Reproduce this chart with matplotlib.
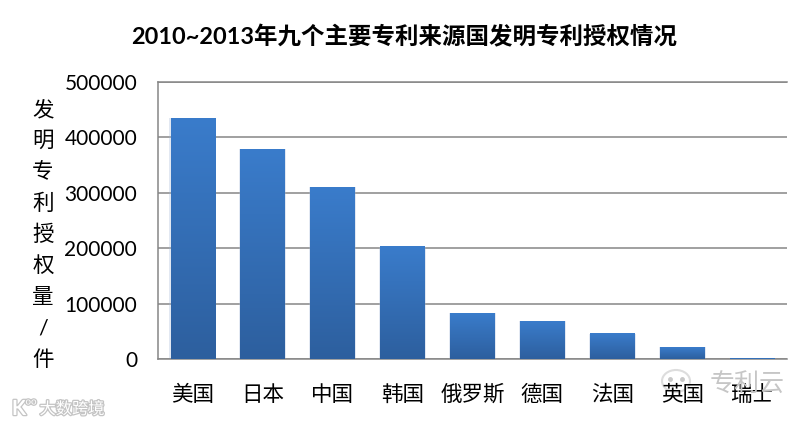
import numpy as np
import matplotlib
matplotlib.use("Agg")
import matplotlib.pyplot as plt
import matplotlib.patheffects as pe
from matplotlib.colors import LinearSegmentedColormap
from matplotlib.patches import Ellipse

plt.rcParams['font.family'] = ['Lato', 'Noto Sans CJK SC', 'DejaVu Sans']

categories = ['美国', '日本', '中国', '韩国', '俄罗斯', '德国', '法国', '英国', '瑞士']
values = [435000, 379000, 310000, 203000, 83000, 68000, 46000, 21000, 1500]
yticks = [0, 100000, 200000, 300000, 400000, 500000]
title = '2010~2013年九个主要专利来源国发明专利授权情况'
ylabel_chars = ['发', '明', '专', '利', '授', '权', '量', '/', '件']

W, H = 809, 424
fig = plt.figure(figsize=(W / 100, H / 100), dpi=100, facecolor='white')
ax = fig.add_axes([158 / W, 1 - 359 / H, (787 - 158) / W, (359 - 82) / H])

x = np.arange(len(categories))
bars = ax.bar(x, values, width=0.64, color='#3a78c6', zorder=2)
cmap = LinearSegmentedColormap.from_list('g', ['#2d5f9e', '#3a7ccb'])
grad = np.linspace(0, 1, 256).reshape(-1, 1)
ax.set_xlim(-0.5, len(categories) - 0.5)
ax.set_ylim(0, 500000)
for b in bars:
    ax.bar(b.get_x() + b.get_width() / 2, b.get_height(), width=b.get_width() * 1.05,
           color='#9fb6d4', alpha=0.3, zorder=1.5)
    # vertical gradient running over the height of each bar
    im = ax.imshow(grad, origin='lower', aspect='auto', cmap=cmap, zorder=3,
                   extent=(b.get_x(), b.get_x() + b.get_width(), 0, b.get_height()),
                   interpolation='bilinear')
ax.set_xlim(-0.5, len(categories) - 0.5)
ax.set_ylim(0, 500000)
ax.set_yticks(yticks)
ax.set_yticklabels([str(v) for v in yticks], fontsize=15, color='black')
ax.set_xticks(x)
ax.set_xticklabels(categories, fontsize=15.5, color='black', zorder=6)
ax.tick_params(axis='y', length=0, pad=15)
ax.tick_params(axis='x', length=0, pad=18.5)
ax.grid(axis='y', color='#868686', lw=1.1, zorder=1)
ax.set_axisbelow(True)
for name in ['top', 'left', 'bottom']:
    ax.spines[name].set_color('#868686')
    ax.spines[name].set_linewidth(1.1)
ax.spines['right'].set_visible(False)

fig.text(404 / W, 1 - 37 / H, title, fontsize=16.9, fontweight='bold',
         ha='center', va='center', color='black')
for i, ch in enumerate(ylabel_chars):
    fig.text(43 / W, 1 - (110 + i * 31.2) / H, ch, fontsize=15.5,
             ha='center', va='center', color='black')

# watermarks
fig.text(747 / W, 1 - 383 / H, '专利云', fontsize=18, color='#c6c6c6',
         ha='center', va='center', zorder=0)
overlay = fig.add_axes([0, 0, 1, 1], facecolor='none', zorder=-1)
overlay.set_xlim(0, W)
overlay.set_ylim(H, 0)
overlay.axis('off')
overlay.add_patch(Ellipse((676, 381), 28, 22, fc='none', ec='#dddddd', lw=1.5))
overlay.plot([670, 682], [379, 379], ls='none', marker='o', ms=2.5, color='#c8c8c8')
outline = [pe.withStroke(linewidth=1.8, foreground='#c4c4c4')]
fig.text(72 / W, 1 - 409 / H, '大数跨境', fontsize=11.7, color='white',
         ha='center', va='center', path_effects=outline)
fig.text(19 / W, 1 - 409 / H, 'K', fontsize=15, color='white', fontweight='bold',
         ha='center', va='center', path_effects=outline)
fig.text(31 / W, 1 - 402 / H, 'oo', fontsize=7, color='white',
         ha='center', va='center', path_effects=outline)

fig.savefig('out.png', dpi=100)
